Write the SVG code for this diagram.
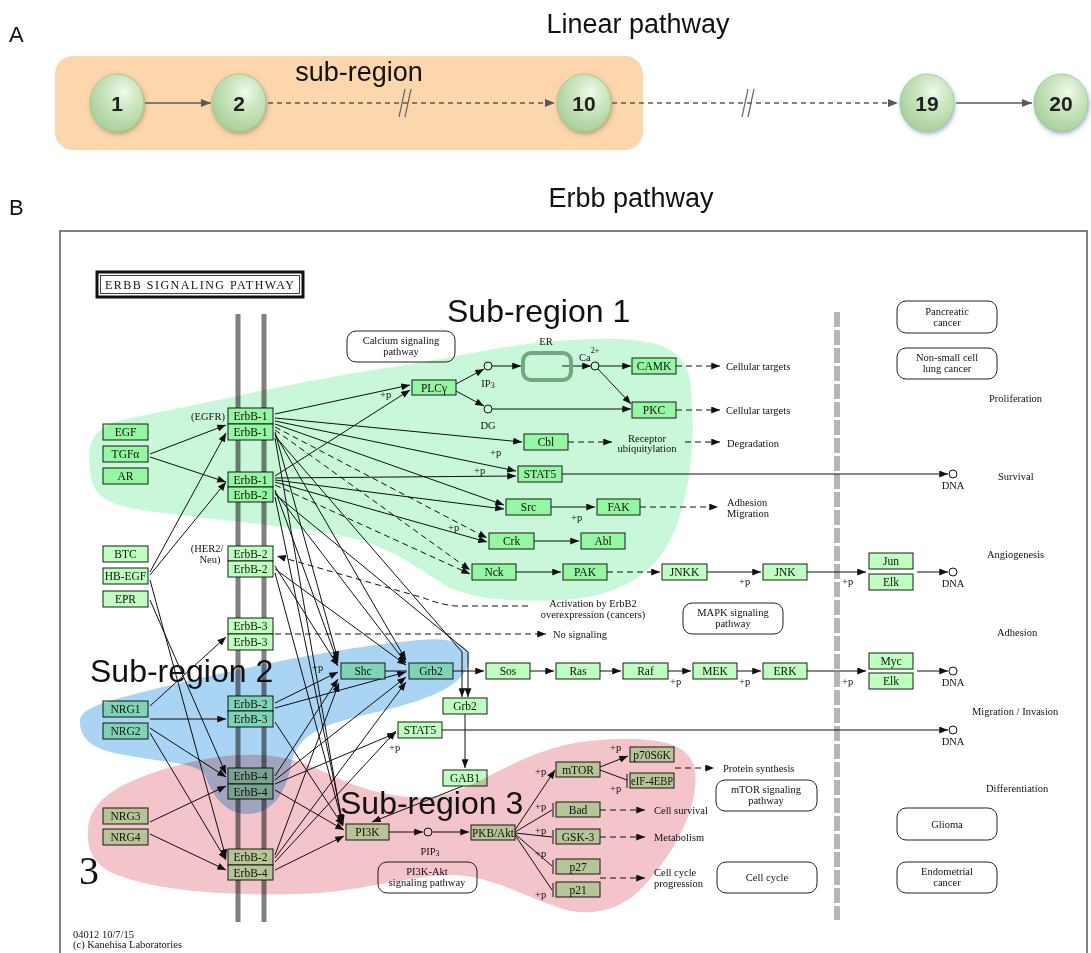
<svg xmlns="http://www.w3.org/2000/svg" width="1091" height="953" viewBox="0 0 1091 953">
<defs>
<style>
.sans{font-family:"Liberation Sans",Arial,sans-serif;fill:#111}
.num{font-family:"Liberation Sans",Arial,sans-serif;font-weight:bold;font-size:21px;text-anchor:middle;fill:#222}
.g rect{fill:#BFFFBF;stroke:#1a1a1a;stroke-width:1}
.g text{font-family:"Liberation Serif","Times New Roman",serif;font-size:11.5px;text-anchor:middle;fill:#111}
.lb{font-family:"Liberation Serif","Times New Roman",serif;font-size:10.5px;fill:#111}
.lc{text-anchor:middle}
.pw rect{fill:#fff;stroke:#222;stroke-width:1}
.pw text{font-family:"Liberation Serif","Times New Roman",serif;font-size:10.5px;text-anchor:middle;fill:#111}
.c{fill:#fff;stroke:#111;stroke-width:1}
#connectors path{fill:none;stroke:#111;stroke-width:1}
#connectors .d{stroke-dasharray:6 4}
#connectors .a{marker-end:url(#ah)}
#linear-edges path{fill:none;stroke:#5a5a5a;stroke-width:1.6}
#linear-edges .a{marker-end:url(#ag)}
#linear-edges .d{stroke-dasharray:5 4}
.blob{mix-blend-mode:multiply}
.circ{fill:url(#cg);stroke:#9cc58f;stroke-width:0.8}
</style>
<marker id="ah" viewBox="0 0 10 8" refX="10" refY="4" markerWidth="9" markerHeight="7" markerUnits="userSpaceOnUse" orient="auto"><path d="M0,0 L10,4 L0,8 z" fill="#111"/></marker>
<marker id="ag" viewBox="0 0 10 8" refX="10" refY="4" markerWidth="10" markerHeight="8" markerUnits="userSpaceOnUse" orient="auto"><path d="M0,0 L10,4 L0,8 z" fill="#5a5a5a"/></marker>
<radialGradient id="cg" cx="0.62" cy="0.32" r="0.75"><stop offset="0" stop-color="#f1faec"/><stop offset="0.35" stop-color="#cfe8c4"/><stop offset="1" stop-color="#a3cd95"/></radialGradient>
<filter id="sh" x="-30%" y="-30%" width="160%" height="160%"><feDropShadow dx="1" dy="2" stdDeviation="2" flood-color="#7a6a50" flood-opacity="0.5"/></filter>
<filter id="shb" x="-30%" y="-30%" width="160%" height="160%"><feDropShadow dx="1" dy="2" stdDeviation="2" flood-color="#6f86c8" flood-opacity="0.6"/></filter>
</defs>
<rect x="0" y="0" width="1091" height="953" fill="#fff"/>

<!-- Part A -->
<text class="sans" x="9" y="42" font-size="22">A</text>
<text class="sans" x="638" y="33" font-size="27" text-anchor="middle">Linear pathway</text>
<g id="subregion-A"><rect x="55" y="56" width="588" height="94" rx="18" fill="#FCD6AC"/>
<text class="sans" x="359" y="81" font-size="27" text-anchor="middle">sub-region</text></g>
<g id="linear-edges">
<path class="a" d="M145,103 L211,103"/>
<path class="a" d="M268,103 L555,103" style="stroke-dasharray:5 4"/>
<path class="a" d="M612,103 L898,103" style="stroke-dasharray:5 4"/>
<path class="a" d="M956,103 L1032,103"/>
<path d="M399,117 L405,89 M405,117 L411,89" style="stroke:#666;stroke-width:1.2"/>
<path d="M742,117 L748,89 M748,117 L754,89" style="stroke:#666;stroke-width:1.2"/>
</g>
<g id="n1" filter="url(#sh)"><ellipse class="circ" cx="117" cy="103" rx="27" ry="29"/><text class="num" x="117" y="111">1</text></g>
<g id="n2" filter="url(#sh)"><ellipse class="circ" cx="239" cy="103" rx="27" ry="29"/><text class="num" x="239" y="111">2</text></g>
<g id="n10" filter="url(#sh)"><ellipse class="circ" cx="584" cy="103" rx="27" ry="29"/><text class="num" x="584" y="111">10</text></g>
<g id="n19" filter="url(#shb)"><ellipse class="circ" cx="927" cy="103" rx="27" ry="29"/><text class="num" x="927" y="111">19</text></g>
<g id="n20" filter="url(#shb)"><ellipse class="circ" cx="1061" cy="103" rx="27" ry="29"/><text class="num" x="1061" y="111">20</text></g>

<!-- Part B -->
<text class="sans" x="9" y="215" font-size="22">B</text>
<text class="sans" x="631" y="207" font-size="27" text-anchor="middle">Erbb pathway</text>
<rect x="60" y="231" width="1027" height="740" fill="none" stroke="#555" stroke-width="1.5"/>
<g id="title-box"><rect x="97" y="272" width="206" height="25" fill="#fff" stroke="#111" stroke-width="3"/><rect x="100.5" y="275.5" width="199" height="18" fill="none" stroke="#111" stroke-width="0.8"/>
<text x="105" y="289" font-family="Liberation Serif, serif" font-size="12" textLength="189" lengthAdjust="spacing" fill="#111">ERBB SIGNALING PATHWAY</text></g>
<g id="membrane"><path d="M238,314 V922 M264,314 V922" stroke="#808080" stroke-width="5" fill="none"/></g>
<g id="nucleus-boundary"><path d="M837,312 V920" stroke="#b5b5b5" stroke-width="6" stroke-dasharray="15 3" fill="none"/></g>

<g id="connectors">
<path class="a" d="M150,454 L226,425"/>
<path class="a" d="M150,457 L226,482"/>
<path class="a" d="M150,572 L226,433"/>
<path class="a" d="M150,575 L226,482"/>
<path class="a" d="M150,580 L226,858"/>
<path class="a" d="M150,600 L226,774"/>
<path class="a" d="M150,706 L226,637"/>
<path class="a" d="M150,719 L226,719"/>
<path class="a" d="M150,728 L226,777"/>
<path class="a" d="M150,733 L226,860"/>
<path class="a" d="M150,822 L226,786"/>
<path class="a" d="M150,834 L226,870"/>
<path class="a" d="M275,414 L410,385"/>
<path class="a" d="M275,418 L522,442"/>
<path class="a" d="M275,421 L516,471"/>
<path class="a" d="M275,424 L504,505"/>
<path class="a d" d="M275,427 L487,538"/>
<path class="a d" d="M275,430 L470,570"/>
<path class="a" d="M275,432 L338,660"/>
<path class="a" d="M275,434 L406,660"/>
<path class="a" d="M275,436 L462,652 L462,697"/>
<path class="a" d="M275,438 L342,823"/>
<path class="a" d="M275,476 L410,390"/>
<path class="a" d="M275,478 L516,476"/>
<path class="a" d="M275,480 L504,509"/>
<path class="a" d="M275,482 L487,542"/>
<path class="a d" d="M275,485 L470,574"/>
<path class="a" d="M275,490 L338,663"/>
<path class="a" d="M275,492 L406,663"/>
<path class="a" d="M275,494 L468,652 L468,697"/>
<path class="a" d="M275,497 L343,824"/>
<path class="a d" d="M528,606 L455,606 Q438,604 424,598 L277,556"/>
<path class="a" d="M275,566 L338,666"/>
<path class="a" d="M275,569 L406,665"/>
<path class="a" d="M275,573 L343,825"/>
<path class="a d" d="M275,634 L546,634"/>
<path class="a" d="M275,703 L338,672"/>
<path class="a" d="M275,708 L406,672"/>
<path class="a" d="M275,722 L343,826"/>
<path class="a" d="M275,776 L338,679"/>
<path class="a" d="M275,780 L406,677"/>
<path class="a" d="M275,784 L396,733"/>
<path class="a" d="M275,790 L344,830"/>
<path class="a" d="M275,855 L339,683"/>
<path class="a" d="M275,858 L406,682"/>
<path class="a" d="M275,862 L396,731"/>
<path class="a" d="M275,870 L344,836"/>
<path class="a" d="M456,384 L484,369"/>
<path class="a" d="M456,391 L484,406"/>
<path class="a" d="M492,366 L521,366"/>
<path class="a" d="M562,366 L591,366"/>
<path class="a" d="M599,366 L631,366"/>
<path class="a" d="M598,369 L631,404"/>
<path class="a" d="M492,409 L631,409"/>
<path class="a d" d="M676,366 L720,366"/>
<path class="a d" d="M676,410 L720,410"/>
<path class="a d" d="M568,442 L612,442"/>
<path class="a d" d="M685,442 L720,442"/>
<path class="a" d="M562,474 L948,474"/>
<path class="a" d="M551,507 L595,507"/>
<path class="a d" d="M640,507 L718,507"/>
<path class="a" d="M534,541 L579,541"/>
<path class="a" d="M516,572 L561,572"/>
<path class="a d" d="M607,572 L660,572"/>
<path class="a" d="M707,572 L761,572"/>
<path class="a" d="M807,572 L866,572"/>
<path class="a" d="M917,572 L948,572"/>
<path d="M385,671 L407,671"/>
<path class="a" d="M453,671 L484,671"/>
<path class="a" d="M530,671 L554,671"/>
<path class="a" d="M600,671 L621,671"/>
<path class="a" d="M668,671 L691,671"/>
<path class="a" d="M737,671 L761,671"/>
<path class="a" d="M807,671 L866,671"/>
<path class="a" d="M917,671 L948,671"/>
<path class="a" d="M465,714 L465,768"/>
<path class="a" d="M442,730 L948,730"/>
<path class="a" d="M463,786 L372,822"/>
<path class="a" d="M389,832 L423,832"/>
<path class="a" d="M432,832 L469,832"/>
<path class="a" d="M515,830 L555,770"/>
<path class="a" d="M600,767 L628,756"/>
<path d="M600,770 L627,780 M627,774 V788"/>
<path d="M515,832 L552,810 M553,803 V817"/>
<path d="M515,833 L552,837 M553,830 V844"/>
<path d="M515,834 L552,866 M553,860 V874"/>
<path d="M515,835 L552,890 M553,883 V897"/>
<path class="a d" d="M600,810 L645,810"/>
<path class="a d" d="M600,837 L645,837"/>
<path class="a d" d="M600,878 L645,878"/>
<path class="a d" d="M675,768 L714,768"/>
</g>

<g id="compounds">
<circle class="c" cx="488" cy="366" r="4"/><circle class="c" cx="488" cy="409" r="4"/><circle class="c" cx="595" cy="366" r="4"/><circle class="c" cx="428" cy="832" r="4"/>
<circle class="c" cx="953" cy="474" r="4"/><circle class="c" cx="953" cy="572" r="4"/><circle class="c" cx="953" cy="671" r="4"/><circle class="c" cx="953" cy="730" r="4"/>
</g>
<g id="ER"><rect x="523" y="353" width="48" height="27" rx="8" fill="none" stroke="#8fae95" stroke-width="4"/></g>

<g id="labels">
<text class="lb lc" x="488" y="387">IP<tspan font-size="8" dy="1">3</tspan></text>
<text class="lb lc" x="488" y="429">DG</text>
<text class="lb lc" x="546" y="345">ER</text>
<text class="lb" x="579" y="361">Ca<tspan font-size="8" dy="-8">2+</tspan></text>
<text class="lb lc" x="430" y="855">PIP<tspan font-size="8" dy="1">3</tspan></text>
<text class="lb lc" x="953" y="489">DNA</text>
<text class="lb lc" x="953" y="587">DNA</text>
<text class="lb lc" x="953" y="686">DNA</text>
<text class="lb lc" x="953" y="745">DNA</text>
<text class="lb lc" x="208" y="420">(EGFR)</text>
<text class="lb lc" x="207" y="552">(HER2/</text>
<text class="lb lc" x="210" y="563">Neu)</text>
<text class="lb" x="726" y="370">Cellular targets</text>
<text class="lb" x="726" y="414">Cellular targets</text>
<text class="lb lc" x="647" y="442">Receptor</text>
<text class="lb lc" x="647" y="452">ubiquitylation</text>
<text class="lb" x="727" y="447">Degradation</text>
<text class="lb" x="727" y="506">Adhesion</text>
<text class="lb" x="727" y="517">Migration</text>
<text class="lb lc" x="593" y="607">Activation by ErbB2</text>
<text class="lb lc" x="593" y="618">overexpression (cancers)</text>
<text class="lb" x="553" y="638">No signaling</text>
<text class="lb" x="723" y="772">Protein synthesis</text>
<text class="lb" x="654" y="814">Cell survival</text>
<text class="lb" x="654" y="841">Metabolism</text>
<text class="lb" x="654" y="876">Cell cycle</text>
<text class="lb" x="654" y="887">progression</text>
<text class="lb" x="989" y="402">Proliferation</text>
<text class="lb" x="998" y="480">Survival</text>
<text class="lb" x="987" y="558">Angiogenesis</text>
<text class="lb" x="997" y="636">Adhesion</text>
<text class="lb" x="972" y="715">Migration / Invasion</text>
<text class="lb" x="986" y="792">Differentiation</text>
<text class="lb" x="73" y="938" font-size="10">04012 10/7/15</text>
<text class="lb" x="73" y="948" font-size="10">(c) Kanehisa Laboratories</text>
<g id="plus-p">
<text class="lb" x="380" y="398">+p</text>
<text class="lb" x="490" y="456">+p</text>
<text class="lb" x="474" y="474">+p</text>
<text class="lb" x="448" y="531">+p</text>
<text class="lb" x="571" y="521">+p</text>
<text class="lb" x="739" y="585">+p</text>
<text class="lb" x="842" y="585">+p</text>
<text class="lb" x="670" y="685">+p</text>
<text class="lb" x="739" y="685">+p</text>
<text class="lb" x="842" y="685">+p</text>
<text class="lb" x="312" y="671">+p</text>
<text class="lb" x="389" y="751">+p</text>
<text class="lb" x="535" y="775">+p</text>
<text class="lb" x="610" y="751">+p</text>
<text class="lb" x="610" y="792">+p</text>
<text class="lb" x="535" y="810">+p</text>
<text class="lb" x="535" y="834">+p</text>
<text class="lb" x="535" y="857">+p</text>
<text class="lb" x="535" y="898">+p</text>
</g>
</g>

<g id="pathway-maps" class="pw">
<g id="pw-calcium"><rect x="347" y="331" width="108" height="31" rx="9"/><text x="401" y="344">Calcium signaling</text><text x="401" y="355">pathway</text></g>
<g id="pw-pancreatic"><rect x="897" y="301" width="100" height="32" rx="9"/><text x="947" y="315">Pancreatic</text><text x="947" y="326">cancer</text></g>
<g id="pw-nsclc"><rect x="897" y="348" width="100" height="31" rx="9"/><text x="947" y="361">Non-small cell</text><text x="947" y="372">lung cancer</text></g>
<g id="pw-mapk"><rect x="683" y="603" width="100" height="31" rx="9"/><text x="733" y="616">MAPK signaling</text><text x="733" y="627">pathway</text></g>
<g id="pw-mtor"><rect x="716" y="780" width="101" height="31" rx="9"/><text x="766" y="793">mTOR signaling</text><text x="766" y="804">pathway</text></g>
<g id="pw-glioma"><rect x="897" y="808" width="100" height="32" rx="9"/><text x="947" y="828">Glioma</text></g>
<g id="pw-cellcycle"><rect x="717" y="862" width="100" height="31" rx="9"/><text x="767" y="881">Cell cycle</text></g>
<g id="pw-endometrial"><rect x="897" y="862" width="100" height="31" rx="9"/><text x="947" y="875">Endometrial</text><text x="947" y="886">cancer</text></g>
<g id="pw-pi3k"><rect x="378" y="862" width="99" height="31" rx="9"/><text x="427" y="875">PI3K-Akt</text><text x="427" y="886">signaling pathway</text></g>
</g>

<g id="genes" class="g">
<g id="EGF"><rect x="103" y="424" width="45" height="16"/><text x="125.5" y="436">EGF</text></g>
<g id="TGFa"><rect x="103" y="446" width="45" height="16"/><text x="125.5" y="458">TGFα</text></g>
<g id="AR"><rect x="103" y="468" width="45" height="16"/><text x="125.5" y="480">AR</text></g>
<g id="BTC"><rect x="103" y="546" width="45" height="16"/><text x="125.5" y="558">BTC</text></g>
<g id="HB-EGF"><rect x="103" y="568" width="45" height="16"/><text x="125.5" y="580">HB-EGF</text></g>
<g id="EPR"><rect x="103" y="591" width="45" height="16"/><text x="125.5" y="603">EPR</text></g>
<g id="NRG1"><rect x="103" y="701" width="45" height="16"/><text x="125.5" y="713">NRG1</text></g>
<g id="NRG2"><rect x="103" y="723" width="45" height="16"/><text x="125.5" y="735">NRG2</text></g>
<g id="NRG3"><rect x="103" y="808" width="45" height="16"/><text x="125.5" y="820">NRG3</text></g>
<g id="NRG4"><rect x="103" y="829" width="45" height="16"/><text x="125.5" y="841">NRG4</text></g>
<g id="R11"><rect x="228" y="408" width="45" height="16"/><text x="250.5" y="420">ErbB-1</text><rect x="228" y="424" width="45" height="16"/><text x="250.5" y="436">ErbB-1</text></g>
<g id="R12"><rect x="228" y="472" width="45" height="15"/><text x="250.5" y="484">ErbB-1</text><rect x="228" y="487" width="45" height="15"/><text x="250.5" y="499">ErbB-2</text></g>
<g id="R22"><rect x="228" y="546" width="45" height="15"/><text x="250.5" y="558">ErbB-2</text><rect x="228" y="561" width="45" height="16"/><text x="250.5" y="573">ErbB-2</text></g>
<g id="R33"><rect x="228" y="618" width="45" height="16"/><text x="250.5" y="630">ErbB-3</text><rect x="228" y="634" width="45" height="16"/><text x="250.5" y="646">ErbB-3</text></g>
<g id="R23"><rect x="228" y="696" width="45" height="15"/><text x="250.5" y="708">ErbB-2</text><rect x="228" y="711" width="45" height="16"/><text x="250.5" y="723">ErbB-3</text></g>
<g id="R44"><rect x="228" y="768" width="45" height="16"/><text x="250.5" y="780">ErbB-4</text><rect x="228" y="784" width="45" height="15"/><text x="250.5" y="796">ErbB-4</text></g>
<g id="R24"><rect x="228" y="849" width="45" height="16"/><text x="250.5" y="861">ErbB-2</text><rect x="228" y="865" width="45" height="15"/><text x="250.5" y="877">ErbB-4</text></g>
<g id="PLCg"><rect x="412" y="380" width="44" height="15"/><text x="434" y="392">PLCγ</text></g>
<g id="CAMK"><rect x="632" y="358" width="44" height="16"/><text x="654" y="370">CAMK</text></g>
<g id="PKC"><rect x="632" y="402" width="44" height="16"/><text x="654" y="414">PKC</text></g>
<g id="Cbl"><rect x="524" y="434" width="44" height="16"/><text x="546" y="446">Cbl</text></g>
<g id="STAT5"><rect x="518" y="466" width="44" height="16"/><text x="540" y="478">STAT5</text></g>
<g id="Src"><rect x="506" y="499" width="45" height="16"/><text x="528.5" y="511">Src</text></g>
<g id="FAK"><rect x="597" y="499" width="43" height="16"/><text x="618.5" y="511">FAK</text></g>
<g id="Crk"><rect x="489" y="533" width="45" height="16"/><text x="511.5" y="545">Crk</text></g>
<g id="Abl"><rect x="581" y="533" width="44" height="16"/><text x="603" y="545">Abl</text></g>
<g id="Nck"><rect x="472" y="564" width="44" height="16"/><text x="494" y="576">Nck</text></g>
<g id="PAK"><rect x="563" y="564" width="44" height="16"/><text x="585" y="576">PAK</text></g>
<g id="JNKK"><rect x="662" y="564" width="45" height="16"/><text x="684.5" y="576">JNKK</text></g>
<g id="JNK"><rect x="763" y="564" width="44" height="16"/><text x="785" y="576">JNK</text></g>
<g id="Jun"><rect x="869" y="553" width="44" height="16"/><text x="891" y="565">Jun</text></g>
<g id="Elk1"><rect x="869" y="574" width="44" height="16"/><text x="891" y="586">Elk</text></g>
<g id="Shc"><rect x="341" y="663" width="44" height="16"/><text x="363" y="675">Shc</text></g>
<g id="Grb2"><rect x="409" y="663" width="44" height="16"/><text x="431" y="675">Grb2</text></g>
<g id="Sos"><rect x="486" y="663" width="44" height="16"/><text x="508" y="675">Sos</text></g>
<g id="Ras"><rect x="556" y="663" width="44" height="16"/><text x="578" y="675">Ras</text></g>
<g id="Raf"><rect x="623" y="663" width="45" height="16"/><text x="645.5" y="675">Raf</text></g>
<g id="MEK"><rect x="693" y="663" width="44" height="16"/><text x="715" y="675">MEK</text></g>
<g id="ERK"><rect x="763" y="663" width="44" height="16"/><text x="785" y="675">ERK</text></g>
<g id="Myc"><rect x="869" y="653" width="44" height="16"/><text x="891" y="665">Myc</text></g>
<g id="Elk2"><rect x="869" y="673" width="44" height="16"/><text x="891" y="685">Elk</text></g>
<g id="Grb2b"><rect x="443" y="698" width="44" height="16"/><text x="465" y="710">Grb2</text></g>
<g id="STAT5b"><rect x="398" y="722" width="44" height="16"/><text x="420" y="734">STAT5</text></g>
<g id="GAB1"><rect x="443" y="770" width="44" height="16"/><text x="465" y="782">GAB1</text></g>
<g id="PI3K"><rect x="346" y="824" width="43" height="16"/><text x="367.5" y="836">PI3K</text></g>
<g id="PKB"><rect x="471" y="825" width="44" height="15"/><text x="493" y="837" textLength="42" lengthAdjust="spacingAndGlyphs">PKB/Akt</text></g>
<g id="mTOR"><rect x="556" y="762" width="44" height="15"/><text x="578" y="774">mTOR</text></g>
<g id="p70S6K"><rect x="630" y="747" width="44" height="15"/><text x="652" y="759">p70S6K</text></g>
<g id="eIF-4EBP"><rect x="630" y="773" width="44" height="15"/><text x="652" y="785" textLength="42" lengthAdjust="spacingAndGlyphs">eIF-4EBP</text></g>
<g id="Bad"><rect x="556" y="802" width="44" height="15"/><text x="578" y="814">Bad</text></g>
<g id="GSK-3"><rect x="556" y="829" width="44" height="15"/><text x="578" y="841">GSK-3</text></g>
<g id="p27"><rect x="556" y="859" width="44" height="15"/><text x="578" y="871">p27</text></g>
<g id="p21"><rect x="556" y="882" width="44" height="15"/><text x="578" y="894">p21</text></g>
</g>

<g id="sub-regions">
<path id="sub-region-1" class="blob" fill="#C9F7D9" d="M90,470 C86,440 95,425 130,418 C200,405 300,380 400,366 C470,355 520,340 600,339 C650,338 685,345 690,380 C697,440 690,490 675,530 C655,580 610,598 560,600 C510,602 480,600 450,588 C420,570 400,553 360,540 C300,525 200,520 130,508 C100,502 92,490 90,470 Z"/>
<path id="sub-region-3" class="blob" fill="#F3C4C9" d="M88,835 C86,800 120,778 200,760 C250,750 290,755 320,770 C350,785 390,800 430,797 C480,792 520,745 600,740 C650,737 690,740 695,770 C700,810 670,860 640,890 C620,910 590,918 560,908 C520,895 490,875 450,875 C400,877 360,892 300,894 C220,896 150,890 110,872 C93,862 88,850 88,835 Z"/>
<path id="sub-region-2" class="blob" fill="#AAD4F3" d="M80,722 C78,705 120,698 200,678 C280,660 360,645 420,640 C460,636 478,650 466,670 C455,690 420,703 360,716 C320,726 300,735 292,760 C287,790 275,812 250,814 C225,815 212,795 205,775 C198,762 160,763 110,752 C88,746 80,735 80,722 Z"/>
<text class="sans" x="447" y="322" font-size="32">Sub-region 1</text>
<text class="sans" x="90" y="682" font-size="32">Sub-region 2</text>
<text class="sans" x="340" y="814" font-size="32">Sub-region 3</text>
<text x="79" y="884" font-family="Liberation Serif, serif" font-size="40" fill="#111">3</text>
</g>
</svg>
